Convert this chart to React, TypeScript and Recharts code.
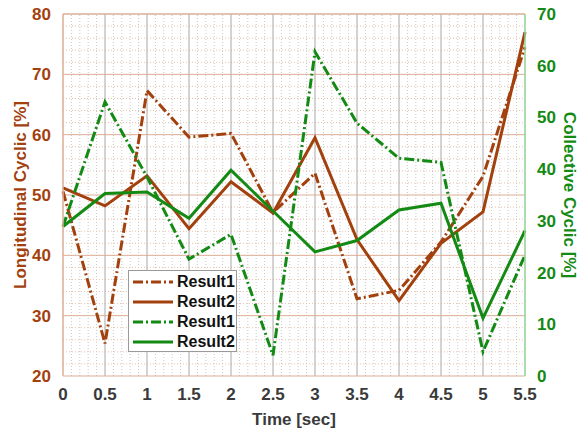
import { Label, Line, LineChart, ReferenceLine, XAxis, YAxis } from "recharts";

// Two y-axes sharing one time axis: longitudinal (brown, left) and
// collective (green, right).

const TIME = [0, 0.5, 1, 1.5, 2, 2.5, 3, 3.5, 4, 4.5, 5, 5.5];

const LONG_RESULT1 = [50.6, 25.4, 67.3, 59.6, 60.2, 47.1, 53.6, 32.8, 34.2, 42.2, 53.1, 74.5];
const LONG_RESULT2 = [51.2, 48.2, 53.2, 44.4, 52.2, 47.0, 59.5, 42.6, 32.5, 42.0, 47.2, 77.0];
const COLL_RESULT1 = [28.9, 53.0, 38.5, 22.6, 27.4, 4.0, 62.7, 48.9, 42.1, 41.3, 4.7, 23.4];
const COLL_RESULT2 = [28.9, 35.3, 35.6, 30.5, 39.8, 31.9, 24.0, 26.2, 32.1, 33.4, 11.2, 28.1];

const X_TICKS = [0, 0.5, 1, 1.5, 2, 2.5, 3, 3.5, 4, 4.5, 5, 5.5];
const LEFT_TICKS = [20, 30, 40, 50, 60, 70, 80];
const RIGHT_TICKS = [0, 10, 20, 30, 40, 50, 60, 70];

const BROWN = "#a3410e";
const GREEN = "#138a13";
const DASH_DOT = "10 3 2 3";
const FONT = "'Liberation Sans', Arial, sans-serif";

// minor grid: every 0.1 s, every 2 % on the left scale
const MINOR_X: number[] = [];
for (let i = 1; i < 55; i++) if (i % 5 !== 0) MINOR_X.push(i / 10);
const MINOR_Y: number[] = [];
for (let v = 22; v < 80; v += 2) if (v % 10 !== 0) MINOR_Y.push(v);

const data = TIME.map((t, i) => ({
  t,
  l1: LONG_RESULT1[i],
  l2: LONG_RESULT2[i],
  c1: COLL_RESULT1[i],
  c2: COLL_RESULT2[i],
}));

const LEGEND_ITEMS = [
  { name: "Result1", color: BROWN, dash: DASH_DOT },
  { name: "Result2", color: BROWN, dash: undefined },
  { name: "Result1", color: GREEN, dash: DASH_DOT },
  { name: "Result2", color: GREEN, dash: undefined },
];

function LegendBox() {
  return (
    <div
      style={{
        position: "absolute",
        left: 128,
        top: 270,
        width: 109,
        height: 82,
        background: "#fff",
        border: "1px solid #9a9a9a",
        boxSizing: "border-box",
        padding: "1px 0 0 3px",
        fontFamily: FONT,
      }}
    >
      {LEGEND_ITEMS.map((item, i) => (
        <div key={i} style={{ display: "flex", alignItems: "center", height: 20 }}>
          <svg width={42} height={8}>
            <line
              x1={1}
              y1={4}
              x2={41}
              y2={4}
              stroke={item.color}
              strokeWidth={3}
              strokeDasharray={item.dash}
            />
          </svg>
          <span style={{ marginLeft: 3, fontSize: 16, fontWeight: 700, color: "#111" }}>{item.name}</span>
        </div>
      ))}
    </div>
  );
}

export default function App() {
  const tickFont = { fontFamily: FONT, fontSize: 17, fontWeight: 700 };
  return (
    <div style={{ position: "absolute", left: 0, top: 0, width: 583, height: 430, background: "#fff" }}>
      <LineChart width={583} height={430} data={data} margin={{ top: 14, right: 0, bottom: 0, left: 0 }}>
        {MINOR_X.map((x) => (
          <ReferenceLine key={`mx${x}`} x={x} yAxisId="left" stroke="#c8c8c8" strokeDasharray="1 2" />
        ))}
        {MINOR_Y.map((y) => (
          <ReferenceLine key={`my${y}`} y={y} yAxisId="left" stroke="#e6c2ae" strokeDasharray="1 2" />
        ))}
        {X_TICKS.slice(1, -1).map((x) => (
          <ReferenceLine key={`gx${x}`} x={x} yAxisId="left" stroke="#a8a8a8" strokeWidth={1} />
        ))}
        {LEFT_TICKS.slice(1).map((y) => (
          <ReferenceLine key={`gy${y}`} y={y} yAxisId="left" stroke="#dcad95" strokeWidth={1} />
        ))}
        <XAxis
          dataKey="t"
          type="number"
          domain={[0, 5.5]}
          ticks={X_TICKS}
          height={54}
          tickLine={false}
          axisLine={{ stroke: "#dcad95" }}
          tick={{ ...tickFont, fill: "#3a3a3a" }}
          tickMargin={6}
          interval={0}
        >
          <Label
            value="Time [sec]"
            position="insideBottom"
            offset={5}
            fontFamily={FONT}
            fontSize={17}
            fontWeight={700}
            fill="#3a3a3a"
          />
        </XAxis>
        <YAxis
          yAxisId="left"
          domain={[20, 80]}
          ticks={LEFT_TICKS}
          width={63}
          tickLine={false}
          axisLine={{ stroke: "#dcad95", strokeWidth: 1.5 }}
          tick={{ ...tickFont, fill: BROWN }}
          tickMargin={6}
          interval={0}
        >
          <Label
            value="Longitudinal Cyclic [%]"
            angle={-90}
            position="insideLeft"
            offset={20}
            textAnchor="middle"
            fontFamily={FONT}
            fontSize={17}
            fontWeight={700}
            fill={BROWN}
          />
        </YAxis>
        <YAxis
          yAxisId="right"
          orientation="right"
          domain={[0, 70]}
          ticks={RIGHT_TICKS}
          width={58}
          tickLine={false}
          axisLine={{ stroke: "#8fd18f", strokeWidth: 1.5 }}
          tick={{ ...tickFont, fill: GREEN }}
          tickMargin={6}
          interval={0}
        >
          <Label
            value="Collective Cyclic [%]"
            angle={90}
            position="insideRight"
            offset={13}
            textAnchor="middle"
            fontFamily={FONT}
            fontSize={17}
            fontWeight={700}
            fill={GREEN}
          />
        </YAxis>
        <ReferenceLine y={80} yAxisId="left" stroke="#dcad95" />
        <Line yAxisId="left" type="linear" dataKey="l1" stroke={BROWN} strokeWidth={3} strokeDasharray={DASH_DOT} dot={false} isAnimationActive={false} />
        <Line yAxisId="left" type="linear" dataKey="l2" stroke={BROWN} strokeWidth={3} dot={false} isAnimationActive={false} />
        <Line yAxisId="right" type="linear" dataKey="c1" stroke={GREEN} strokeWidth={3} strokeDasharray={DASH_DOT} dot={false} isAnimationActive={false} />
        <Line yAxisId="right" type="linear" dataKey="c2" stroke={GREEN} strokeWidth={3} dot={false} isAnimationActive={false} />
      </LineChart>
      <LegendBox />
    </div>
  );
}
